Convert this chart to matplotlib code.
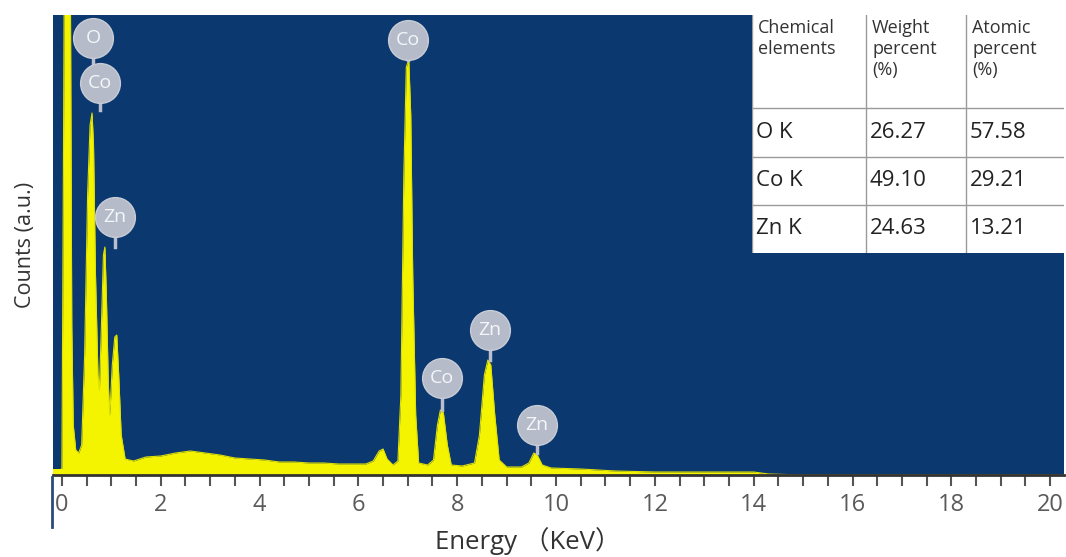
import numpy as np
import matplotlib
matplotlib.use("Agg")
import matplotlib.pyplot as plt
from matplotlib.lines import Line2D

plt.rcParams['font.family'] = ['Open Sans', 'Noto Sans CJK SC', 'DejaVu Sans']

# spectrum outline (energy in keV, counts in a.u.)
energy = [-0.15, 0.00, 0.03, 0.05, 0.17, 0.20, 0.23, 0.28, 0.34, 0.40, 0.46, 0.52,
          0.57, 0.61, 0.64, 0.68, 0.73, 0.76, 0.80, 0.84, 0.87, 0.90, 0.94, 0.97,
          1.02, 1.07, 1.11, 1.15, 1.20, 1.28, 1.45, 1.70, 2.00, 2.30, 2.60, 2.90,
          3.20, 3.50, 3.80, 4.10, 4.40, 4.70, 5.00, 5.30, 5.60, 5.90, 6.15, 6.30,
          6.42, 6.50, 6.58, 6.70, 6.80, 6.86, 6.92, 6.97, 7.02, 7.06, 7.10, 7.16,
          7.22, 7.40, 7.52, 7.60, 7.66, 7.72, 7.80, 7.88, 8.10, 8.35, 8.45, 8.55,
          8.62, 8.68, 8.76, 8.85, 9.00, 9.30, 9.45, 9.55, 9.62, 9.72, 9.90, 10.5,
          11.2, 12.0, 13.0, 14.0, 14.3, 15.0, 20.3]
counts = [4, 6, 300, 520, 520, 150, 50, 25, 22, 30, 120, 280,
          350, 362, 330, 200, 100, 85, 150, 220, 228, 180, 90, 60,
          110, 138, 140, 100, 40, 16, 14, 18, 19, 22, 24, 22,
          20, 17, 16, 15, 13, 13, 12, 12, 11, 11, 11, 14,
          24, 26, 16, 10, 14, 80, 300, 408, 415, 360, 200, 60,
          12, 10, 15, 50, 65, 62, 30, 10, 9, 12, 40, 100,
          115, 110, 60, 15, 8, 8, 12, 22, 20, 10, 7, 6,
          4, 3, 3, 3, 1, 0, 0]

# peak labels: element, label position, peak top
peak_elem = ['O', 'Co', 'Zn', 'Co', 'Co', 'Zn', 'Zn']
peak_e = [0.63, 0.77, 1.08, 7.0, 7.69, 8.66, 9.62]
peak_lab_c = [437, 392, 258, 435, 97, 145, 50]
peak_top_c = [392, 365, 228, 415, 65, 115, 22]

# table
col_labels = ['Chemical\nelements', 'Weight\npercent\n(%)', 'Atomic\npercent\n(%)']
elements = ['O K', 'Co K', 'Zn K']
weight_pct = ['26.27', '49.10', '24.63']
atomic_pct = ['57.58', '29.21', '13.21']

fig = plt.figure(figsize=(10.66, 5.57), dpi=100)
ax = fig.add_axes([53/1066, 82/557, 1011/1066, 460/557])
ax.set_facecolor('#0a386f')
ax.fill_between(energy, counts, color='#f4f400', lw=0)
ax.plot(energy, counts, color='#e0e000', lw=0.8)
ax.axhline(3, color='#f4f400', lw=5, xmax=0.49)

ax.set_xlim(-0.18, 20.28)
ax.set_ylim(0, 460)
ax.set_yticks([])
ax.set_xticks(np.arange(0, 21, 2))
ax.set_xticks(np.arange(0, 20.3, 0.5), minor=True)
ax.tick_params(axis='x', which='both', direction='out', length=8, width=1.5,
               color='#555555', labelsize=17, labelcolor='#5a5a5a', pad=5)
for s in ['top', 'right', 'left']:
    ax.spines[s].set_visible(False)
ax.spines['bottom'].set_color('#333333')
ax.spines['bottom'].set_linewidth(2)

# element markers
for el, e, cl, ct in zip(peak_elem, peak_e, peak_lab_c, peak_top_c):
    ax.plot([e, e], [ct, cl], color='#b9bfcc', lw=2.5, zorder=4)
    ax.scatter([e], [cl], s=820, color='#b5bbc8', zorder=5, edgecolors='#c8ccd6')
    ax.text(e, cl, el, color='#f4f6fa', fontsize=14, ha='center', va='center',
            zorder=6)

ax.set_ylabel('Counts (a.u.)', fontsize=15.5, color='#333333', labelpad=12)
fig.text(528/1066, 16/557, 'Energy （KeV）', fontsize=18.5, color='#333333',
         ha='center', va='center', family=['Open Sans', 'Noto Sans CJK SC'])
fig.add_artist(Line2D([52/1066, 52/1066], [30/557, 80/557], color='#2a4a7a', lw=2))

# table drawn in pixel units
tax = fig.add_axes([752/1066, 304/557, 312/1066, 238/557])
tax.set_xlim(0, 312)
tax.set_ylim(238, 0)
tax.axis('off')
tax.add_patch(plt.Rectangle((0, 0), 312, 238, color='white', zorder=0))
col_x = [0, 114, 214, 312]
row_y = [0, 93, 142, 190, 238]
for x in col_x[:-1]:
    tax.plot([x, x], [0, 238], color='#9a9a9a', lw=1)
for y in row_y[1:-1]:
    tax.plot([0, 312], [y, y], color='#9a9a9a', lw=1)
for i, lab in enumerate(col_labels):
    tax.text(col_x[i] + 6, 4, lab, fontsize=13, va='top', ha='left',
             color='#333333', linespacing=1.2)
for r, row in enumerate(zip(elements, weight_pct, atomic_pct)):
    yc = (row_y[r + 1] + row_y[r + 2]) / 2
    for i, val in enumerate(row):
        tax.text(col_x[i] + 4, yc, val, fontsize=16, va='center', ha='left',
                 color='#222222')

fig.savefig('out.png', dpi=100, facecolor='white')
